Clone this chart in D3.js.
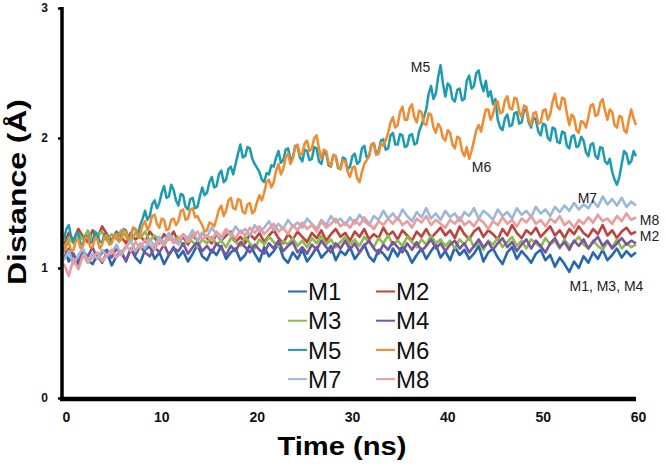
<!DOCTYPE html>
<html>
<head>
<meta charset="utf-8">
<script src="https://cdn.jsdelivr.net/npm/d3@7"></script>
<style>
  html, body { margin: 0; padding: 0; background: #fff; }
  svg { display: block; font-family: "Liberation Sans", Arial, sans-serif; }
</style>
</head>
<body>
<svg id="chart" width="666" height="467"></svg>
<script>
// ---------------- data ----------------
const seriesNames = ["M1", "M2", "M3", "M4", "M5", "M6", "M7", "M8"];
const seriesColors = ["#2468b4", "#c0423c", "#8fba4c", "#7a55a0", "#1c9bb1", "#f28a30", "#9ab8da", "#ec9c9a"];
const timeSpanNs = 60;        // every series is sampled evenly over 0 .. 60 ns
const xTicks = [0, 10, 20, 30, 40, 50, 60];
const yTicks = [0, 1, 2, 3];

// 0.5 ns sampling
const M1 = [1.16,1.05,1.11,1.01,1.12,1.06,1.03,1.10,1.04,1.12,
1.02,1.09,1.13,1.05,1.15,1.08,1.04,1.14,1.17,1.07,
1.12,1.03,1.10,1.16,1.08,1.13,1.05,1.11,1.18,1.09,
1.06,1.14,1.10,1.17,1.07,1.12,1.15,1.06,1.10,1.18,
1.11,1.05,1.16,1.09,1.13,1.19,1.08,1.04,1.12,1.07,
1.14,1.05,1.10,1.16,1.08,1.12,1.17,1.06,1.13,1.10,
1.16,1.07,1.12,1.18,1.09,1.05,1.14,1.11,1.06,1.15,
1.09,1.17,1.12,1.04,1.10,1.15,1.07,1.13,1.18,1.08,
1.13,1.06,1.16,1.10,1.14,1.07,1.11,1.17,1.05,1.12,
1.15,1.08,1.03,1.12,1.16,1.07,1.13,1.09,1.04,1.11,
1.14,1.06,1.10,1.01,1.08,1.03,0.97,1.05,1.00,1.09,
1.04,1.12,1.07,1.14,1.06,1.10,1.15,1.08,1.13,1.09,1.12];

const M2 = [1.18,1.27,1.21,1.30,1.24,1.20,1.29,1.23,1.32,1.26,
1.21,1.28,1.24,1.19,1.27,1.22,1.25,1.20,1.28,1.23,
1.19,1.26,1.22,1.28,1.20,1.24,1.18,1.25,1.21,1.27,
1.23,1.19,1.26,1.21,1.25,1.28,1.20,1.24,1.19,1.26,
1.22,1.27,1.20,1.25,1.29,1.23,1.19,1.26,1.22,1.28,
1.24,1.20,1.27,1.23,1.29,1.21,1.26,1.30,1.24,1.27,
1.21,1.28,1.24,1.30,1.22,1.26,1.23,1.31,1.25,1.28,
1.22,1.29,1.25,1.21,1.28,1.24,1.30,1.23,1.27,1.31,
1.25,1.29,1.23,1.32,1.26,1.22,1.28,1.31,1.24,1.29,
1.26,1.22,1.30,1.25,1.33,1.27,1.23,1.29,1.26,1.31,
1.24,1.28,1.32,1.25,1.29,1.23,1.30,1.26,1.32,1.27,
1.24,1.30,1.26,1.33,1.25,1.29,1.23,1.28,1.31,1.26,1.28];

const M3 = [1.15,1.23,1.19,1.27,1.22,1.29,1.20,1.25,1.28,1.21,
1.26,1.22,1.29,1.24,1.20,1.27,1.23,1.28,1.21,1.25,
1.22,1.18,1.25,1.21,1.24,1.17,1.23,1.20,1.16,1.22,
1.19,1.24,1.18,1.21,1.16,1.23,1.20,1.17,1.24,1.19,
1.15,1.22,1.18,1.24,1.20,1.16,1.21,1.18,1.23,1.17,
1.21,1.16,1.23,1.19,1.25,1.18,1.22,1.16,1.20,1.24,
1.18,1.22,1.17,1.24,1.20,1.16,1.23,1.19,1.25,1.18,
1.21,1.17,1.24,1.20,1.16,1.22,1.18,1.25,1.19,1.22,
1.17,1.21,1.15,1.22,1.18,1.24,1.16,1.20,1.14,1.21,
1.18,1.23,1.16,1.20,1.24,1.17,1.21,1.15,1.22,1.19,
1.16,1.23,1.18,1.21,1.15,1.22,1.17,1.20,1.24,1.18,
1.15,1.21,1.17,1.14,1.20,1.16,1.22,1.15,1.19,1.16,1.18];

const M4 = [1.08,1.15,1.10,1.05,1.13,1.09,1.16,1.07,1.12,1.14,
1.08,1.15,1.11,1.06,1.14,1.10,1.17,1.12,1.09,1.16,
1.12,1.18,1.10,1.15,1.13,1.19,1.11,1.16,1.20,1.13,
1.17,1.12,1.19,1.15,1.10,1.17,1.13,1.20,1.16,1.12,
1.18,1.14,1.11,1.19,1.15,1.21,1.13,1.17,1.20,1.12,
1.16,1.11,1.18,1.14,1.21,1.16,1.12,1.19,1.15,1.21,
1.14,1.19,1.12,1.17,1.21,1.15,1.11,1.18,1.14,1.20,
1.16,1.12,1.19,1.14,1.20,1.13,1.17,1.22,1.15,1.19,
1.13,1.18,1.21,1.15,1.19,1.12,1.17,1.22,1.16,1.20,
1.14,1.19,1.23,1.16,1.20,1.13,1.18,1.22,1.15,1.21,
1.17,1.12,1.19,1.23,1.16,1.20,1.14,1.21,1.17,1.22,
1.15,1.20,1.24,1.17,1.21,1.15,1.19,1.23,1.18,1.21,1.19];

// 0.25 ns sampling
const M5 = [1.22,1.30,1.33,1.24,1.20,1.26,1.27,1.18,1.19,1.24,1.25,1.19,1.21,1.28,1.26,1.20,1.20,1.26,1.24,1.19,
1.21,1.25,1.27,1.21,1.23,1.30,1.29,1.23,1.24,1.31,1.30,1.26,1.33,1.38,1.44,1.37,1.40,1.49,1.52,1.46,
1.50,1.58,1.63,1.54,1.55,1.64,1.60,1.52,1.48,1.57,1.56,1.47,1.45,1.53,1.54,1.46,1.47,1.55,1.62,1.56,
1.58,1.66,1.70,1.62,1.63,1.72,1.75,1.66,1.68,1.76,1.78,1.72,1.80,1.88,1.95,1.85,1.86,1.93,1.92,1.84,
1.80,1.77,1.74,1.68,1.66,1.73,1.72,1.79,1.78,1.85,1.90,1.81,1.83,1.91,1.92,1.84,1.85,1.94,1.93,1.85,
1.82,1.91,1.90,1.83,1.84,1.93,1.92,1.82,1.80,1.89,1.88,1.79,1.78,1.87,1.86,1.77,1.76,1.85,1.84,1.76,
1.78,1.86,1.88,1.80,1.82,1.92,1.94,1.85,1.86,1.95,1.96,1.88,1.90,1.98,1.99,1.91,1.92,2.02,2.04,1.95,
1.95,2.03,2.02,1.93,1.94,2.02,2.03,1.95,1.96,2.05,2.10,2.16,2.22,2.34,2.40,2.30,2.34,2.47,2.56,2.42,
2.32,2.42,2.40,2.30,2.28,2.37,2.38,2.29,2.30,2.44,2.48,2.38,2.40,2.50,2.52,2.42,2.36,2.44,2.32,2.36,
2.26,2.30,2.14,2.08,2.06,2.15,2.18,2.09,2.10,2.19,2.20,2.11,2.12,2.21,2.22,2.12,2.08,2.16,2.14,2.05,
2.02,2.11,2.10,2.00,1.98,2.08,2.07,1.97,1.96,2.05,2.04,1.94,1.92,2.01,2.02,1.93,1.94,2.01,1.98,1.89,
1.86,1.95,1.96,1.86,1.84,1.93,1.92,1.82,1.80,1.84,1.74,1.68,1.64,1.70,1.80,1.90,1.88,1.80,1.82,1.90,1.86];

const M6 = [1.12,1.17,1.20,1.13,1.14,1.21,1.22,1.15,1.17,1.23,1.24,1.16,1.16,1.23,1.22,1.15,1.18,1.24,1.25,1.18,
1.19,1.25,1.26,1.20,1.22,1.29,1.28,1.21,1.24,1.31,1.30,1.24,1.26,1.33,1.36,1.29,1.33,1.40,1.41,1.34,
1.31,1.38,1.37,1.29,1.30,1.37,1.38,1.33,1.36,1.44,1.45,1.37,1.38,1.45,1.46,1.39,1.40,1.36,1.33,1.28,
1.29,1.35,1.34,1.32,1.38,1.45,1.48,1.40,1.44,1.52,1.54,1.46,1.45,1.53,1.52,1.43,1.42,1.49,1.50,1.42,
1.44,1.51,1.56,1.52,1.58,1.66,1.68,1.62,1.66,1.75,1.80,1.72,1.76,1.85,1.88,1.80,1.84,1.93,1.95,1.87,
1.88,1.96,1.98,1.90,1.92,2.00,2.02,1.92,1.84,1.91,1.90,1.81,1.78,1.87,1.86,1.78,1.76,1.83,1.82,1.74,
1.70,1.77,1.78,1.69,1.66,1.74,1.80,1.83,1.86,1.95,1.96,1.87,1.88,1.96,1.94,1.98,2.04,2.12,2.16,2.08,
2.10,2.20,2.24,2.14,2.14,2.23,2.26,2.16,2.12,2.21,2.20,2.11,2.10,2.19,2.18,2.08,2.04,2.11,2.08,2.00,
1.98,2.06,2.04,1.95,1.92,2.01,2.00,1.90,1.86,1.93,1.84,1.90,1.98,2.06,2.10,2.05,2.14,2.22,2.22,2.14,
2.18,2.27,2.28,2.19,2.20,2.29,2.32,2.23,2.22,2.31,2.30,2.20,2.16,2.25,2.24,2.14,2.10,2.19,2.20,2.11,
2.12,2.21,2.22,2.14,2.18,2.28,2.34,2.24,2.22,2.31,2.30,2.19,2.10,2.18,2.16,2.06,2.04,2.13,2.12,2.08,
2.16,2.25,2.26,2.17,2.18,2.27,2.30,2.21,2.14,2.22,2.20,2.10,2.08,2.17,2.16,2.06,2.04,2.14,2.22,2.15,2.10];

// 0.5 ns sampling
const M7 = [1.06,1.13,1.03,1.10,1.15,1.05,1.11,1.07,1.14,1.09,
1.12,1.18,1.10,1.16,1.21,1.13,1.19,1.15,1.22,1.17,
1.24,1.19,1.27,1.22,1.18,1.26,1.23,1.29,1.21,1.27,
1.24,1.31,1.26,1.22,1.29,1.25,1.32,1.27,1.30,1.25,
1.33,1.28,1.31,1.36,1.29,1.34,1.30,1.37,1.32,1.35,
1.31,1.38,1.34,1.30,1.37,1.33,1.40,1.35,1.38,1.33,
1.39,1.34,1.41,1.36,1.33,1.40,1.37,1.44,1.38,1.42,
1.37,1.45,1.40,1.36,1.43,1.39,1.46,1.38,1.42,1.37,
1.44,1.39,1.42,1.36,1.43,1.40,1.46,1.38,1.44,1.41,
1.37,1.45,1.40,1.43,1.38,1.46,1.41,1.44,1.39,1.47,
1.42,1.45,1.40,1.47,1.43,1.48,1.44,1.50,1.45,1.49,
1.46,1.52,1.47,1.55,1.49,1.53,1.48,1.54,1.47,1.51,1.48];

const M8 = [1.03,0.94,1.07,0.99,1.10,1.04,1.08,1.12,1.05,1.10,
1.14,1.08,1.12,1.17,1.13,1.20,1.15,1.22,1.18,1.14,
1.21,1.17,1.24,1.19,1.22,1.26,1.20,1.24,1.28,1.22,
1.25,1.21,1.28,1.24,1.30,1.26,1.23,1.29,1.25,1.31,
1.27,1.32,1.26,1.30,1.34,1.28,1.31,1.26,1.33,1.29,
1.35,1.30,1.33,1.28,1.36,1.31,1.34,1.38,1.32,1.35,
1.31,1.37,1.33,1.39,1.34,1.30,1.36,1.33,1.38,1.34,
1.39,1.33,1.36,1.31,1.38,1.35,1.40,1.33,1.37,1.34,
1.31,1.37,1.34,1.39,1.33,1.36,1.32,1.38,1.35,1.30,
1.36,1.33,1.39,1.34,1.37,1.32,1.38,1.35,1.40,1.34,
1.37,1.32,1.38,1.35,1.40,1.33,1.36,1.31,1.37,1.34,
1.39,1.35,1.41,1.36,1.38,1.34,1.40,1.36,1.42,1.37,1.39];

const seriesValues = [M1, M2, M3, M4, M5, M6, M7, M8];
const seriesWidths = [2.6, 2.6, 2.6, 2.6, 2.5, 2.5, 2.6, 2.6];

// annotation labels placed on the plot
const annotationTexts = ["M5", "M6", "M7", "M8", "M2", "M1, M3, M4"];
const annotationAt = [[37.4, 2.55], [43.8, 1.78], [54.9, 1.54], [60.4, 1.37], [60.4, 1.25], [56.9, 0.86]];
const annotationAnchor = ["middle", "middle", "middle", "start", "start", "middle"];

// ---------------- drawing ----------------
const svg = d3.select("#chart");
const x = d3.scaleLinear().domain([0, 60]).range([64, 636]);
const y = d3.scaleLinear().domain([0, 3]).range([398, 8]);

const line = d3.line()
  .x((d, i, arr) => x(i * timeSpanNs / (arr.length - 1)))
  .y(d => y(d))
  .curve(d3.curveLinear);

svg.append("g").selectAll("path")
  .data(seriesValues)
  .join("path")
  .attr("d", d => line(d))
  .attr("fill", "none")
  .attr("stroke", (d, i) => seriesColors[i])
  .attr("stroke-width", (d, i) => seriesWidths[i])
  .attr("stroke-linejoin", "round");

// y axis
const yAxis = svg.append("g")
  .attr("transform", "translate(62,0)")
  .call(d3.axisLeft(y).tickValues(yTicks).tickFormat(d3.format("d")).tickSize(4).tickSizeOuter(0).tickPadding(10));
yAxis.select(".domain").remove();
yAxis.selectAll(".tick line").attr("stroke", "#000").attr("stroke-width", 2.5);
yAxis.selectAll(".tick text")
  .attr("font-family", "Liberation Sans, Arial, sans-serif")
  .attr("font-size", 12).attr("font-weight", "bold").attr("fill", "#111");
svg.append("line")
  .attr("x1", 62).attr("x2", 62)
  .attr("y1", y(3) - 1).attr("y2", y(0) + 3)
  .attr("stroke", "#000").attr("stroke-width", 3.5);

// x axis
const xAxis = svg.append("g")
  .attr("transform", `translate(0,${y(0) + 1})`)
  .call(d3.axisBottom(x).tickValues(xTicks).tickFormat(d3.format("d")).tickSize(0).tickPadding(13));
xAxis.select(".domain").remove();
xAxis.selectAll(".tick text")
  .attr("font-family", "Liberation Sans, Arial, sans-serif")
  .attr("font-size", 14).attr("font-weight", "bold").attr("fill", "#111")
  .attr("dx", 2);
svg.append("line")
  .attr("x1", 60).attr("x2", x(60))
  .attr("y1", y(0) + 1).attr("y2", y(0) + 1)
  .attr("stroke", "#000").attr("stroke-width", 4.5);

// axis titles
svg.append("text")
  .attr("x", 342).attr("y", 455)
  .attr("text-anchor", "middle")
  .attr("font-size", 25).attr("font-weight", "bold").attr("fill", "#000")
  .attr("textLength", 129).attr("lengthAdjust", "spacingAndGlyphs")
  .text("Time (ns)");

svg.append("text")
  .attr("transform", "translate(26,192) rotate(-90)")
  .attr("text-anchor", "middle")
  .attr("font-size", 25).attr("font-weight", "bold").attr("fill", "#000")
  .attr("textLength", 186).attr("lengthAdjust", "spacingAndGlyphs")
  .text("Distance (Å)");

// legend
const legend = svg.append("g");
const legendItems = legend.selectAll("g")
  .data(seriesNames)
  .join("g")
  .attr("transform", (d, i) => `translate(${i % 2 === 0 ? 288 : 376},${291.5 + Math.floor(i / 2) * 29.2})`);
legendItems.append("line")
  .attr("x1", 0).attr("x2", 19).attr("y1", 0).attr("y2", 0)
  .attr("stroke", (d, i) => seriesColors[i]).attr("stroke-width", 2);
legendItems.append("text")
  .attr("x", 20).attr("y", 0).attr("dy", "0.36em")
  .attr("font-size", 24).attr("fill", "#111")
  .text(d => d);

// annotations
svg.append("g").selectAll("text")
  .data(annotationTexts)
  .join("text")
  .attr("x", (d, i) => x(annotationAt[i][0]))
  .attr("y", (d, i) => y(annotationAt[i][1]))
  .attr("dy", "0.36em")
  .attr("text-anchor", (d, i) => annotationAnchor[i])
  .attr("font-size", 14).attr("fill", "#222")
  .text(d => d);
</script>
</body>
</html>
